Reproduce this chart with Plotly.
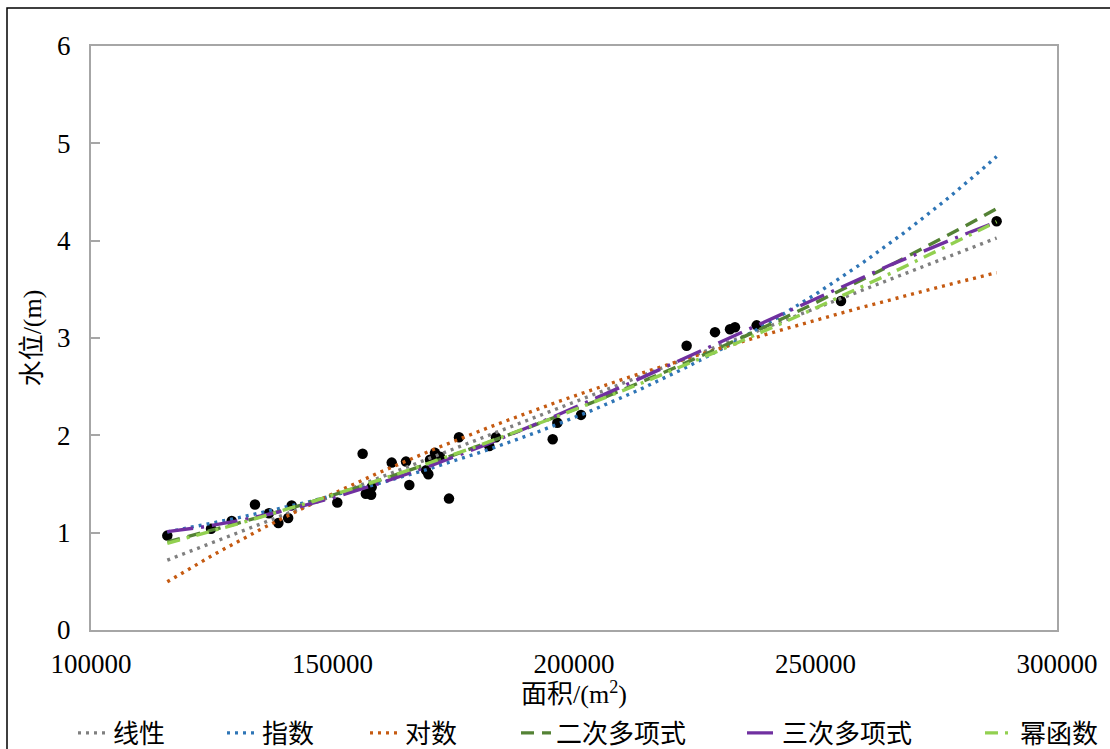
import numpy as np
import plotly.graph_objects as go

# Measured reservoir surface area (m²) and water level (m)
area_m2 = [115800, 124850, 129130, 133950, 136850, 138790, 140820, 141550,
           150990, 156240, 156900, 158000, 158120, 162260, 165220, 165900,
           169360, 169840, 170190, 171220, 172260, 174120, 176190, 182460,
           183850, 195590, 196550, 201450, 223320, 229190, 232300, 233330,
           237820, 255280, 287500]
water_level_m = [0.97, 1.04, 1.12, 1.29, 1.20, 1.10, 1.15, 1.28,
                 1.31, 1.81, 1.40, 1.39, 1.47, 1.72, 1.73, 1.49,
                 1.64, 1.60, 1.75, 1.82, 1.78, 1.35, 1.98, 1.89,
                 1.98, 1.96, 2.13, 2.21, 2.92, 3.06, 3.09, 3.11,
                 3.13, 3.38, 4.20]

trend_names = ["线性", "指数", "对数", "二次多项式", "三次多项式", "幂函数"]
trend_colors = ["#7F7F7F", "#2E75B6", "#C55A11", "#548235", "#7030A0", "#92D050"]
trend_dashes = ["3px,5px", "3px,5px", "3px,5px", "13px,8px",
                "26px,8px,3px,8px", "13px,7px,3px,7px"]
# anchor of each legend entry, in pixels across the figure
legend_anchor_px = [73, 222, 365, 516, 742, 1104]
legend_anchor_side = ["left", "left", "left", "left", "left", "right"]

FIG_W, FIG_H = 1110, 749
M_L, M_R, M_T, M_B = 91, 53, 46, 119
FONT = "Liberation Serif, Noto Sans CJK SC, serif"
FS = 27

x = np.array(area_m2, dtype=float)
y = np.array(water_level_m, dtype=float)
xs = np.linspace(x.min(), x.max(), 400)
u, us = x / 1e5, xs / 1e5

# least-squares trendlines
lin = np.polyval(np.polyfit(x, y, 1), xs)
b_e, a_e = np.polyfit(x, np.log(y), 1)
expo = np.exp(a_e) * np.exp(b_e * xs)
b_l, a_l = np.polyfit(np.log(x), y, 1)
loga = b_l * np.log(xs) + a_l
poly2 = np.polyval(np.polyfit(u, y, 2), us)
poly3 = np.polyval(np.polyfit(u, y, 3), us)
b_p, a_p = np.polyfit(np.log(x), np.log(y), 1)
power = np.exp(a_p) * xs ** b_p
curves = [lin, expo, loga, poly2, poly3, power]

fig = go.Figure()
fig.add_trace(go.Scatter(
    x=area_m2, y=water_level_m, mode="markers", showlegend=False,
    marker=dict(color="black", size=10.5, line=dict(width=0)),
))

legend_layouts = {}
for i, (name, col, dash, yc) in enumerate(zip(trend_names, trend_colors, trend_dashes, curves)):
    key = "legend" if i == 0 else f"legend{i + 1}"
    fig.add_trace(go.Scatter(
        x=xs, y=yc, mode="lines", name=name, legend=key,
        line=dict(color=col, width=3.4, dash=dash),
    ))
    legend_layouts[key] = dict(
        orientation="h", xref="container", yref="container",
        x=legend_anchor_px[i] / FIG_W, xanchor=legend_anchor_side[i],
        y=(FIG_H - 733) / FIG_H, yanchor="middle",
        bgcolor="rgba(0,0,0,0)", borderwidth=0,
        font=dict(family=FONT, size=26, color="black"),
    )

axis_common = dict(
    showgrid=False, zeroline=False, showline=True, mirror=True,
    linecolor="#A6A6A6", linewidth=2, automargin=False,
    tickfont=dict(family=FONT, size=FS, color="black"),
)

fig.update_layout(
    width=FIG_W, height=FIG_H,
    margin=dict(l=M_L, r=M_R, t=M_T, b=M_B, pad=0, autoexpand=False),
    paper_bgcolor="white", plot_bgcolor="white",
    font=dict(family=FONT, size=FS, color="black"),
    xaxis=dict(
        range=[100000, 300000], tick0=100000, dtick=50000, tickformat="d",
        ticks="", ticklabelstandoff=9,
        title=dict(text="面积/(m<sup>2</sup>)", standoff=10,
                   font=dict(family=FONT, size=26, color="black")),
        **axis_common,
    ),
    yaxis=dict(
        range=[0, 6], tick0=0, dtick=1, ticks="inside", ticklen=9,
        tickcolor="#A6A6A6", tickwidth=2, ticklabelstandoff=13,
        title=dict(text="水位/(m)", standoff=8,
                   font=dict(family=FONT, size=26, color="black")),
        **axis_common,
    ),
    showlegend=True,
    **legend_layouts,
)

# outer chart frame
pw, ph = FIG_W - M_L - M_R, FIG_H - M_T - M_B
fig.add_shape(
    type="rect", xref="paper", yref="paper",
    x0=(7 - M_L) / pw, x1=(FIG_W + 5 - M_L) / pw,
    y0=-(FIG_H + 5 - (FIG_H - M_B)) / ph, y1=(FIG_H - M_B - 8) / ph,
    line=dict(color="black", width=1.5), fillcolor="rgba(0,0,0,0)", layer="below",
)

fig.write_html("out.html")
